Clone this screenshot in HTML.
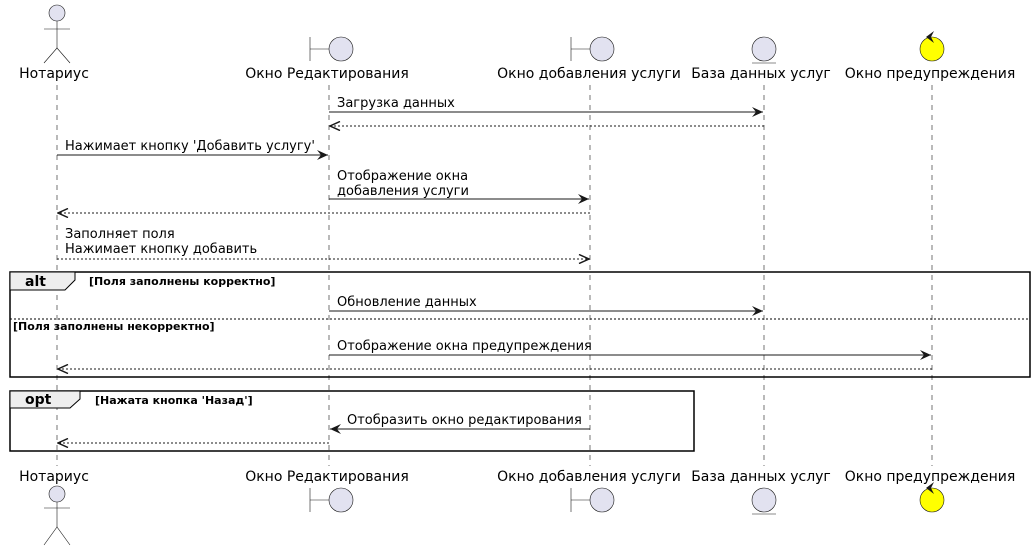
<!DOCTYPE html>
<html><head><meta charset="utf-8"><style>
html,body{margin:0;padding:0;background:#fff;}
svg{display:block;font-family:"DejaVu Sans","Liberation Sans",sans-serif;}
</style></head><body>
<svg width="1036" height="548" viewBox="0 0 1036 548" xmlns="http://www.w3.org/2000/svg">
<defs>
<marker id="a" markerWidth="12" markerHeight="10" refX="11" refY="5" orient="auto" markerUnits="userSpaceOnUse">
<path d="M0,0 L11,5 L0,10 L4,5 Z" fill="#181818"/></marker>
<marker id="o" markerWidth="12" markerHeight="10" refX="11" refY="5" orient="auto" markerUnits="userSpaceOnUse">
<path d="M1,0.5 L11,5 L1,9.5" fill="none" stroke="#181818" stroke-width="1.5"/></marker>
</defs>
<g stroke="#181818" stroke-width="0.6" stroke-dasharray="5,5">
<line x1="57" y1="85" x2="57" y2="466"/>
<line x1="329" y1="85" x2="329" y2="466"/>
<line x1="590" y1="85" x2="590" y2="466"/>
<line x1="764" y1="85" x2="764" y2="466"/>
<line x1="932" y1="85" x2="932" y2="466"/>
</g>
<g fill="#E2E2F0" stroke="#181818" stroke-width="0.6">
<circle cx="57" cy="13" r="8"/>
<line x1="57" y1="21" x2="57" y2="48"/><line x1="44" y1="29" x2="70" y2="29"/>
<polyline points="44,63 57,48 70,63" fill="none"/>
<circle cx="341" cy="49" r="12"/><line x1="310" y1="37" x2="310" y2="61"/><line x1="310" y1="49" x2="329" y2="49"/>
<circle cx="602" cy="49" r="12"/><line x1="571" y1="37" x2="571" y2="61"/><line x1="571" y1="49" x2="590" y2="49"/>
<circle cx="764" cy="49" r="12"/><line x1="752" y1="63" x2="776" y2="63"/>
<circle cx="932" cy="49" r="12" fill="#FFFF00"/>
</g>
<path d="M926,37 L934,31 L931,37 L934,43 Z" fill="#181818"/>
<g fill="#E2E2F0" stroke="#181818" stroke-width="0.6">
<circle cx="57" cy="494" r="8"/>
<line x1="57" y1="502" x2="57" y2="527"/><line x1="44" y1="508" x2="70" y2="508"/>
<polyline points="44,545 57,527 70,545" fill="none"/>
<circle cx="341" cy="500" r="12"/><line x1="310" y1="488" x2="310" y2="512"/><line x1="310" y1="500" x2="329" y2="500"/>
<circle cx="602" cy="500" r="12"/><line x1="571" y1="488" x2="571" y2="512"/><line x1="571" y1="500" x2="590" y2="500"/>
<circle cx="764" cy="500" r="12"/><line x1="752" y1="514" x2="776" y2="514"/>
<circle cx="932" cy="500" r="12" fill="#FFFF00"/>
</g>
<path d="M926,488 L934,482 L931,488 L934,494 Z" fill="#181818"/>
<g font-size="14" fill="#000" text-anchor="middle">
<text x="54" y="78">Нотариус</text><text x="327" y="78">Окно Редактирования</text>
<text x="589" y="78">Окно добавления услуги</text><text x="761" y="78">База данных услуг</text>
<text x="930" y="78">Окно предупреждения</text>
<text x="54" y="481">Нотариус</text><text x="327" y="481">Окно Редактирования</text>
<text x="589" y="481">Окно добавления услуги</text><text x="761" y="481">База данных услуг</text>
<text x="930" y="481">Окно предупреждения</text>
</g>
<g stroke="#000" fill="none">
<rect x="10" y="272" width="1020" height="105" stroke-width="1.5"/>
<line x1="10" y1="319" x2="1030" y2="319" stroke-width="1" stroke-dasharray="2,2"/>
<rect x="10" y="391" width="684" height="60" stroke-width="1.5"/>
</g>
<path d="M10,272 L75,272 L75,280 L65,290 L10,290 Z" fill="#EEEEEE" stroke="#000" stroke-width="1"/>
<path d="M10,391 L80,391 L80,399 L70,408 L10,408 Z" fill="#EEEEEE" stroke="#000" stroke-width="1"/>
<g font-size="14" font-weight="bold"><text x="25" y="286">alt</text><text x="25" y="404">opt</text></g>
<g font-size="11" font-weight="bold">
<text x="89" y="285">[Поля заполнены корректно]</text>
<text x="13" y="330">[Поля заполнены некорректно]</text>
<text x="95" y="404">[Нажата кнопка 'Назад']</text>
</g>
<g stroke="#181818" stroke-width="1">
<line x1="329" y1="112" x2="763" y2="112" marker-end="url(#a)"/>
<line x1="764" y1="126" x2="330" y2="126" stroke-dasharray="2,2" marker-end="url(#o)"/>
<line x1="57" y1="155" x2="328" y2="155" marker-end="url(#a)"/>
<line x1="329" y1="199" x2="589" y2="199" marker-end="url(#a)"/>
<line x1="590" y1="213" x2="58" y2="213" stroke-dasharray="2,2" marker-end="url(#o)"/>
<line x1="57" y1="259" x2="589" y2="259" stroke-dasharray="2,2" marker-end="url(#o)"/>
<line x1="329" y1="311" x2="763" y2="311" marker-end="url(#a)"/>
<line x1="329" y1="355" x2="931" y2="355" marker-end="url(#a)"/>
<line x1="932" y1="369" x2="58" y2="369" stroke-dasharray="2,2" marker-end="url(#o)"/>
<line x1="590" y1="429" x2="330" y2="429" marker-end="url(#a)"/>
<line x1="329" y1="443" x2="58" y2="443" stroke-dasharray="2,2" marker-end="url(#o)"/>
</g>
<g font-size="13" fill="#000">
<text x="337" y="107">Загрузка данных</text>
<text x="65" y="150">Нажимает кнопку 'Добавить услугу'</text>
<text x="337" y="180">Отображение окна</text>
<text x="337" y="195">добавления услуги</text>
<text x="65" y="238">Заполняет поля</text>
<text x="65" y="253">Нажимает кнопку добавить</text>
<text x="337" y="306">Обновление данных</text>
<text x="337" y="350">Отображение окна предупреждения</text>
<text x="347" y="424">Отобразить окно редактирования</text>
</g>
</svg>
</body></html>
